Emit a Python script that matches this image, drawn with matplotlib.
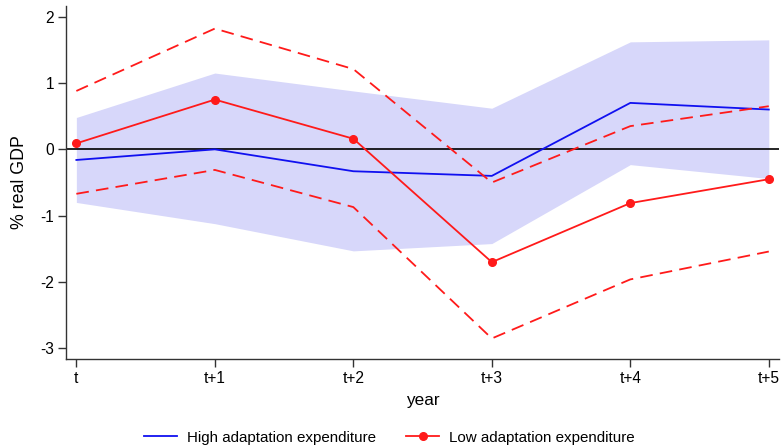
import matplotlib
matplotlib.use("Agg")
import matplotlib.pyplot as plt
from matplotlib.lines import Line2D

plt.rcParams['font.family'] = ['Liberation Sans', 'DejaVu Sans']

# Horizons and responses (% of real GDP)
horizons = ["t", "t+1", "t+2", "t+3", "t+4", "t+5"]
high_coef = [-0.16, 0.00, -0.33, -0.40, 0.70, 0.60]
high_upper = [0.48, 1.15, 0.88, 0.62, 1.62, 1.65]
high_lower = [-0.80, -1.12, -1.53, -1.42, -0.23, -0.44]
low_coef = [0.09, 0.75, 0.16, -1.70, -0.81, -0.45]
low_upper = [0.88, 1.82, 1.21, -0.50, 0.35, 0.65]
low_lower = [-0.67, -0.31, -0.87, -2.85, -1.96, -1.54]
y_ticks = [2, 1, 0, -1, -2, -3]

fig = plt.figure(figsize=(7.83, 4.46), dpi=100)
ax = fig.add_axes([0.0839, 0.195, 0.9953 - 0.0839, 0.9865 - 0.195])

x = list(range(len(horizons)))

ax.fill_between(x, high_lower, high_upper, color="#d7d7fa", linewidth=0, zorder=1)
ax.axhline(0, color="black", linewidth=1.2, zorder=2)
ax.plot(x, high_coef, color="#1010f0", linewidth=1.3, zorder=3)
ax.plot(x, low_upper, color="#ff1a1a", linewidth=1.3, dashes=(7, 4), zorder=3)
ax.plot(x, low_lower, color="#ff1a1a", linewidth=1.3, dashes=(7, 4), zorder=3)
ax.plot(x, low_coef, color="#ff1a1a", linewidth=1.3, marker="o",
        markersize=5.5, zorder=4)

ax.set_xlim(-0.077, 5.076)
ax.set_ylim(-3.16, 2.16)
ax.set_xticks(x)
ax.set_xticklabels(horizons)
ax.set_yticks(y_ticks)
ax.set_yticklabels([str(v) for v in y_ticks])

for side in ("top", "right"):
    ax.spines[side].set_visible(False)
for side in ("left", "bottom"):
    ax.spines[side].set_color("#333333")
    ax.spines[side].set_linewidth(1.0)

ax.tick_params(axis="both", labelsize=11.2, length=5.5, width=1.0,
               color="#333333", labelcolor="black")
ax.tick_params(axis="x", pad=3)
ax.tick_params(axis="y", pad=3)

ax.set_xlabel("year", fontsize=12.3, labelpad=5)
ax.set_ylabel("% real GDP", fontsize=12.8, labelpad=9)

handles = [
    Line2D([], [], color="#1010f0", linewidth=1.3),
    Line2D([], [], color="#ff1a1a", linewidth=1.3, marker="o", markersize=5.5),
]
fig.legend(handles, ["High adaptation expenditure", "Low adaptation expenditure"],
           loc="center", bbox_to_anchor=(0.497, 0.019), ncol=2, frameon=False,
           fontsize=10.9, handlelength=2.2, columnspacing=2.0, handletextpad=0.65)

fig.savefig("out.png", dpi=100)
